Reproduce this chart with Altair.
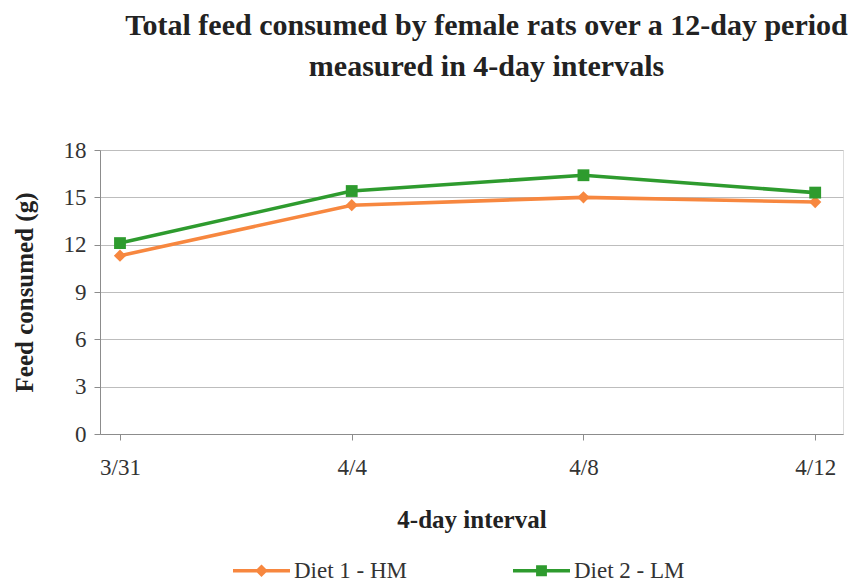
import altair as alt
import pandas as pd

dates = ["3/31", "4/4", "4/8", "4/12"]
day_offsets = [0, 4, 8, 12]
series_names = ["Diet 1 - HM", "Diet 2 - LM"]
diet1 = [11.3, 14.5, 15.0, 14.7]
diet2 = [12.1, 15.4, 16.4, 15.3]
colors = ["#F7873F", "#2E9B2E"]
marker_shapes = ["diamond", "square"]
y_ticks = [0, 3, 6, 9, 12, 15, 18]

rows = []
for name, vals in zip(series_names, [diet1, diet2]):
    for d, lab, v in zip(day_offsets, dates, vals):
        rows.append({"day": d, "date": lab, "series": name, "value": v})
df = pd.DataFrame(rows)

label_expr = " : ".join(
    [f"datum.value == {d} ? '{lab}'" for d, lab in zip(day_offsets, dates)]
) + " : ''"

FONT = "Liberation Serif"

x = alt.X(
    "day:Q",
    scale=alt.Scale(domain=[-0.345, 12.48], nice=False, zero=False),
    axis=alt.Axis(
        title="4-day interval",
        values=day_offsets,
        labelExpr=label_expr,
        grid=False,
        domainColor="#8C8C8C",
        tickColor="#8C8C8C",
        tickSize=6,
        labelFont=FONT,
        labelFontSize=23,
        labelColor="#333333",
        labelPadding=16,
        titleFont=FONT,
        titleFontSize=25,
        titleFontWeight="bold",
        titleColor="#222222",
        titlePadding=28,
    ),
)
y = alt.Y(
    "value:Q",
    scale=alt.Scale(domain=[0, 18], nice=False),
    axis=alt.Axis(
        title="Feed consumed (g)",
        values=y_ticks,
        grid=True,
        gridColor="#BDBDBD",
        domainColor="#8C8C8C",
        tickColor="#8C8C8C",
        tickSize=6,
        labelFont=FONT,
        labelFontSize=23,
        labelColor="#333333",
        labelPadding=8,
        titleFont=FONT,
        titleFontSize=25,
        titleFontWeight="bold",
        titleColor="#222222",
        titlePadding=26,
    ),
)

color_scale = alt.Scale(domain=series_names, range=colors)

line_path = "M-1,-0.06H1V0.06H-1Z"
diamond = "M0,-0.22L0.22,0L0,0.22L-0.22,0Z"
square = "M-0.19,-0.19H0.19V0.19H-0.19Z"

legend_props = dict(
    title=None,
    orient="none",
    legendX=133,
    legendY=392,
    direction="horizontal",
    symbolSize=3249,
    symbolStrokeWidth=0,
    symbolOpacity=1,
    labelFont=FONT,
    labelFontSize=23,
    labelColor="#333333",
    labelOffset=4,
    columnPadding=105,
    labelLimit=300,
)
legend = alt.Legend(**legend_props)

lines = alt.Chart(df).mark_line(strokeWidth=3.6).encode(
    x=x,
    y=y,
    color=alt.Color("series:N", scale=color_scale, legend=legend),
)

point_layers = [
    alt.Chart(df)
    .transform_filter(alt.datum.series == name)
    .mark_point(filled=True, opacity=1, shape=shp, size=sz)
    .encode(
        x=x,
        y=y,
        color=alt.Color("series:N", scale=color_scale, legend=legend),
    )
    for name, shp, sz in zip(series_names, marker_shapes, [150, 140])
]

legend_layer = alt.Chart(df).mark_point(filled=True, opacity=0).encode(
    x=x,
    y=y,
    color=alt.Color("series:N", scale=color_scale, legend=legend),
    shape=alt.Shape(
        "series:N",
        scale=alt.Scale(domain=series_names,
                        range=[f"{line_path} {diamond}", f"{line_path} {square}"]),
        legend=legend,
    ),
)

chart = (
    alt.layer(legend_layer, lines, *point_layers)
    .properties(
        width=743,
        height=284,
        title=alt.Title(
            ["Total feed consumed by female rats over a 12-day period", "measured in 4-day intervals"],
            font=FONT,
            fontSize=30,
            fontWeight="bold",
            color="#222222",
            anchor="middle",
            dx=15,
            offset=57,
            lineHeight=41,
        ),
        autosize=alt.AutoSizeParams(type="none"),
        padding={"left": 100, "top": 150, "right": 24, "bottom": 149},
    )
    .configure_view(stroke=None)
    .configure(background="white")
)

chart.save("out.html", embed_options={"renderer": "svg", "actions": False})
